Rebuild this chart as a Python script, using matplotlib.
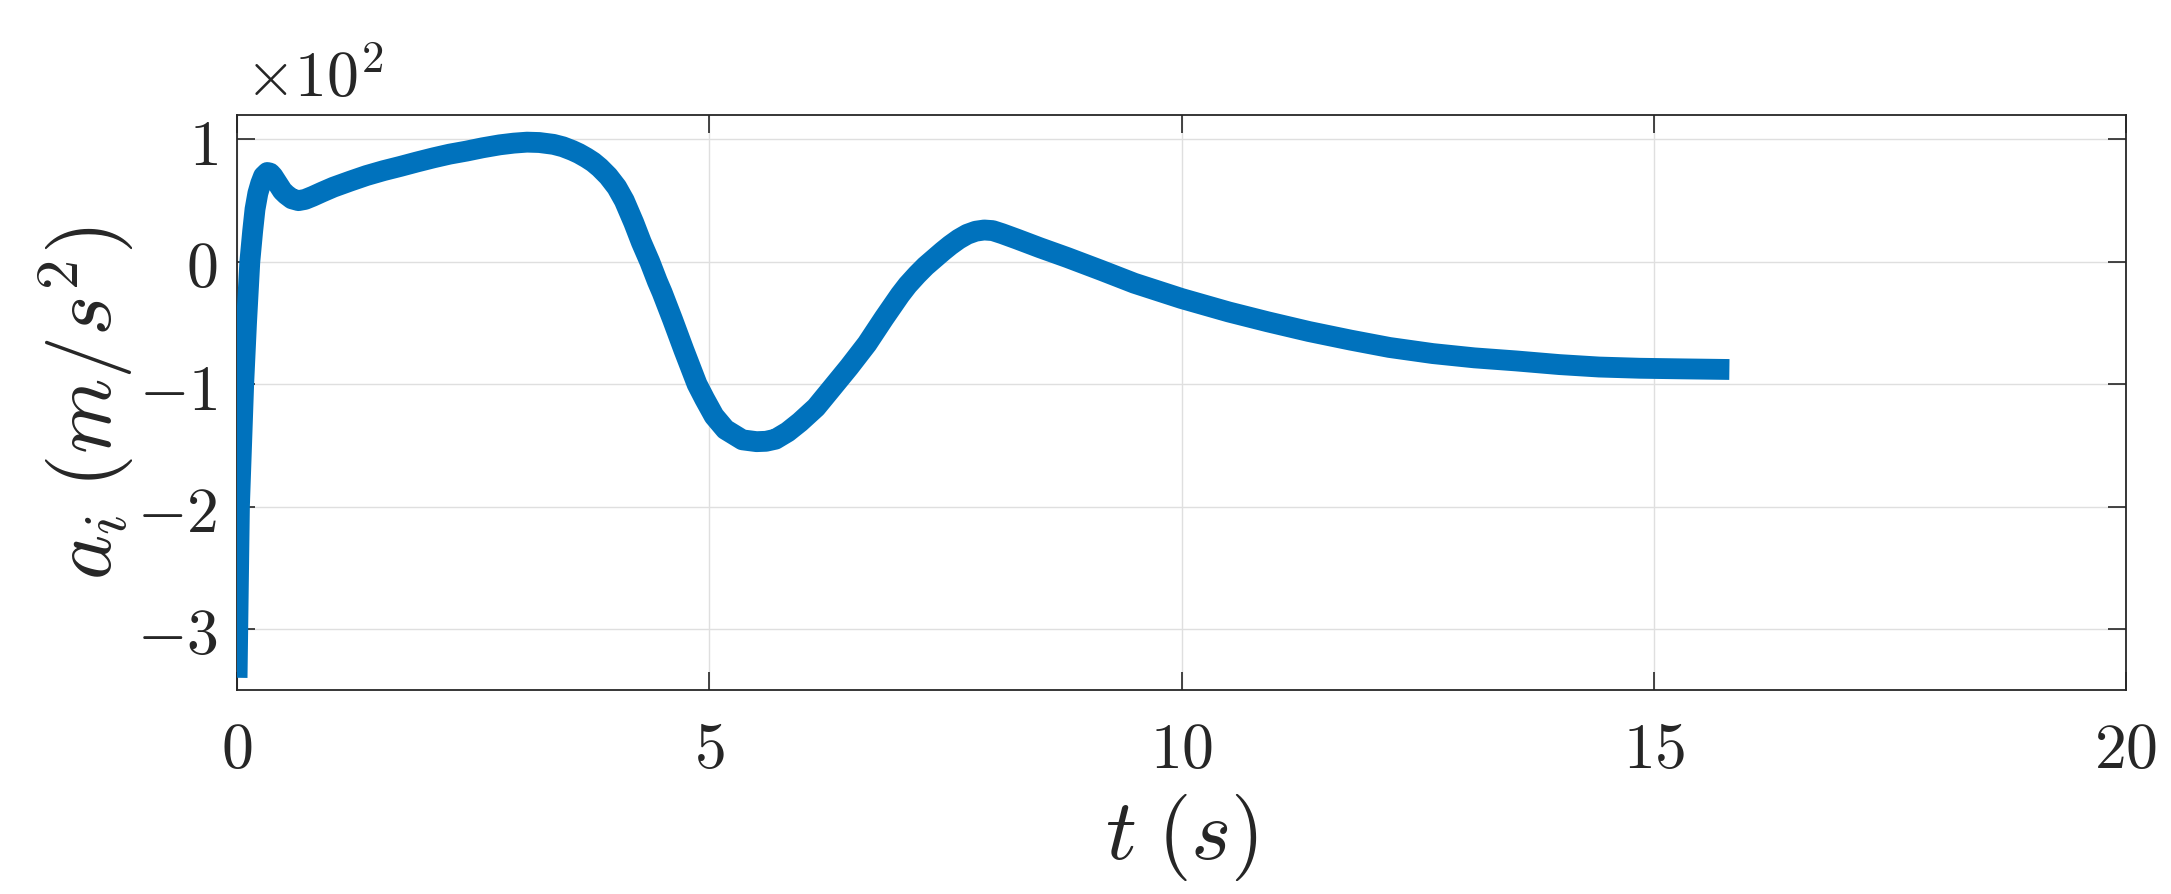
import matplotlib
matplotlib.use("Agg")
import matplotlib.pyplot as plt
from matplotlib.ticker import FuncFormatter

# acceleration a_i (m/s^2) against time t (s)
t = [0.0, 0.025, 0.07, 0.1, 0.135, 0.165, 0.19, 0.22, 0.25, 0.28, 0.32,
     0.35, 0.38, 0.43, 0.48, 0.52, 0.58, 0.65, 0.72, 0.8, 0.9,
     1.02, 1.2, 1.37, 1.55, 1.73, 1.9, 2.08, 2.25, 2.43, 2.6, 2.78, 2.93,
     3.07, 3.2, 3.35, 3.45, 3.55, 3.62, 3.7, 3.77, 3.84, 3.93, 4.02, 4.1,
     4.2, 4.28, 4.37, 4.45, 4.5, 4.61, 4.73, 4.87, 4.95, 5.05, 5.17, 5.35,
     5.5, 5.6, 5.7, 5.83, 5.96, 6.13, 6.3, 6.48, 6.67, 6.85, 7.02, 7.1,
     7.2, 7.29, 7.38, 7.47, 7.55, 7.64, 7.73, 7.82, 7.91, 8.0, 8.1, 8.26,
     8.5, 8.79, 9.15, 9.5, 10.0, 10.5, 10.91, 11.35, 11.79, 12.2, 12.66,
     13.1, 13.54, 14.0, 14.42, 14.85, 15.3, 15.8]
a = [-340, -200, -100, -50, 0, 25, 43, 56, 64, 70, 73,
     72.5, 70, 64, 58, 55, 51.5, 50, 51, 53.5, 57,
     61, 66, 70.5, 74.5, 78, 81.5, 85, 88, 90.5, 93.2, 95.6, 97,
     97.8, 97.5, 96, 94, 91, 88.5, 85, 81.5, 77, 70, 61, 50,
     32, 16, 0, -16, -25, -47, -72, -100, -112, -126, -137, -145.5,
     -147, -146.7, -145, -139, -131, -119, -103, -86, -67, -46, -27, -19,
     -10.5, -3.5, 2.5, 8.5, 13.5, 18.5, 22.5, 25, 26, 25.5, 23, 18.5,
     11.5, 3.5, -7, -17.5, -30, -41, -49, -57, -64, -70, -75,
     -78.5, -81, -84, -86, -87, -87.5, -88]

xticks = [0, 5, 10, 15, 20]
yticks = [-300, -200, -100, 0, 100]
scale = 100  # shown as x10^2

plt.rcParams['mathtext.fontset'] = 'cm'
txt = '#262626'

fig = plt.figure(figsize=(21.71, 8.95), dpi=100)
ax = fig.add_axes([0.1092, 0.2279, 0.8701, 0.6425])

ax.plot(t, a, color='#0072BD', linewidth=15, solid_joinstyle='round',
        solid_capstyle='butt', zorder=3)

ax.set_xlim(0, 20)
ax.set_ylim(-350, 120)
ax.set_xticks(xticks)
ax.set_yticks(yticks)
ax.xaxis.set_major_formatter(FuncFormatter(lambda v, p: '$%g$' % v))
ax.yaxis.set_major_formatter(FuncFormatter(lambda v, p: '$%g$' % (v / scale)))

ax.grid(True, color='#dfdfdf', linewidth=1.0, zorder=0)
ax.set_axisbelow(True)
for s in ax.spines.values():
  s.set_color(txt)
  s.set_linewidth(1.3)
ax.tick_params(direction='in', length=13, width=1.2, color=txt,
               top=True, right=True, labelsize=46, labelcolor=txt)
ax.tick_params(axis='y', pad=14)
ax.tick_params(axis='x', pad=20)

ax.text(0.004, 1.033, r'$\times10^{2}$', transform=ax.transAxes,
        fontsize=46, color=txt, ha='left', va='baseline')

ax.set_xlabel(r'$t\;(s)$', fontsize=62, color=txt)
ax.xaxis.set_label_coords(0.5, -0.176)
ax.set_ylabel(r'$a_i\;(m/s^2)$', fontsize=62, color=txt)
ax.yaxis.set_label_coords(-0.054, 0.5)

fig.savefig('out.png', dpi=100, facecolor='white')
